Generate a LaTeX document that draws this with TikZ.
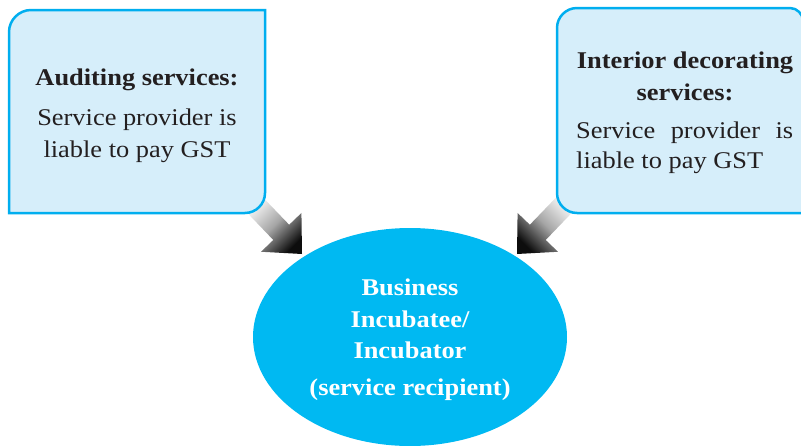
\documentclass[tikz,border=0pt]{standalone}
\usepackage{fontspec}
\setmainfont{Liberation Serif}[FakeStretch=1.1]
\usetikzlibrary{calc,shapes.geometric}
\definecolor{boxfill}{RGB}{214,238,250}
\definecolor{boxline}{RGB}{0,174,239}
\definecolor{ellfill}{RGB}{0,185,242}
\definecolor{txt}{RGB}{35,31,32}
\begin{document}
\begin{tikzpicture}[x=1pt,y=-1pt,
  infobox/.style={fill=boxfill,draw=boxline,line width=2.5pt},
  hd/.style={anchor=base,font=\fontsize{24}{28}\selectfont\bfseries,text=txt,inner sep=0pt},
  bd/.style={anchor=base,font=\fontsize{24}{28}\selectfont,text=txt,inner sep=0pt},
  bdl/.style={anchor=base west,font=\fontsize{24}{28}\selectfont,text=txt,inner sep=0pt},
  wt/.style={anchor=base,font=\fontsize{24}{28}\selectfont\bfseries,text=white,inner sep=0pt},
  blockarrow/.style={top color=gray!8,bottom color=black!95,middle color=gray!70}]
\useasboundingbox (0,0) rectangle (801,445);

% ---- block arrows ----
\coordinate (la-s) at (254,204);
\coordinate (la-t) at (302,254);
\coordinate (la-b) at ($(la-t)!30pt!(la-s)$);
\shade[blockarrow,shading angle=45]
  ($(la-s)!11pt!90:(la-t)$) -- ($(la-b)!11pt!90:(la-t)$) -- ($(la-b)!28pt!90:(la-t)$)
  -- (la-t) -- ($(la-b)!28pt!-90:(la-t)$) -- ($(la-b)!11pt!-90:(la-t)$)
  -- ($(la-s)!11pt!-90:(la-t)$) -- cycle;

\coordinate (ra-s) at (566,203);
\coordinate (ra-t) at (517,254);
\coordinate (ra-b) at ($(ra-t)!30pt!(ra-s)$);
\shade[blockarrow,shading angle=-45]
  ($(ra-s)!11pt!90:(ra-t)$) -- ($(ra-b)!11pt!90:(ra-t)$) -- ($(ra-b)!28pt!90:(ra-t)$)
  -- (ra-t) -- ($(ra-b)!28pt!-90:(ra-t)$) -- ($(ra-b)!11pt!-90:(ra-t)$)
  -- ($(ra-s)!11pt!-90:(ra-t)$) -- cycle;

% ---- boxes ----
\draw[infobox] (9,213) -- (9,32) .. controls (9,20) and (19,10) .. (31,10) -- (265,10)
  -- (265,193) .. controls (265,204) and (256,213) .. (245,213) -- cycle;
\draw[infobox] (557,28) .. controls (557,17) and (566,8) .. (577,8) -- (790,8)
  .. controls (797,8) and (803,14) .. (803,21) -- (803,213) -- (577,213)
  .. controls (566,213) and (557,204) .. (557,193) -- cycle;

% ---- ellipse ----
\node[ellipse,fill=ellfill,minimum width=314pt,minimum height=218pt,inner sep=0pt] (inc) at (410,337) {};

% ---- texts ----
\node[hd] (l1) at (137,85) {Auditing services:};
\node[bd] (l2) at (137,125) {Service provider is};
\node[bd] (l3) at (137,157) {liable to pay GST};

\node[hd] (r1) at (685,68) {Interior decorating};
\node[hd] (r2) at (685,100) {services:};
\node[bdl] (r3) at (576,138) {\makebox[217pt][s]{Service\hfill provider\hfill is}};
\node[bdl] (r4) at (576,168) {liable to pay GST};

\node[wt] (e1) at (410,295) {Business};
\node[wt] (e2) at (410,327) {Incubatee/};
\node[wt] (e3) at (410,358) {Incubator};
\node[wt] (e4) at (410,395) {(service recipient)};
\end{tikzpicture}
\end{document}
